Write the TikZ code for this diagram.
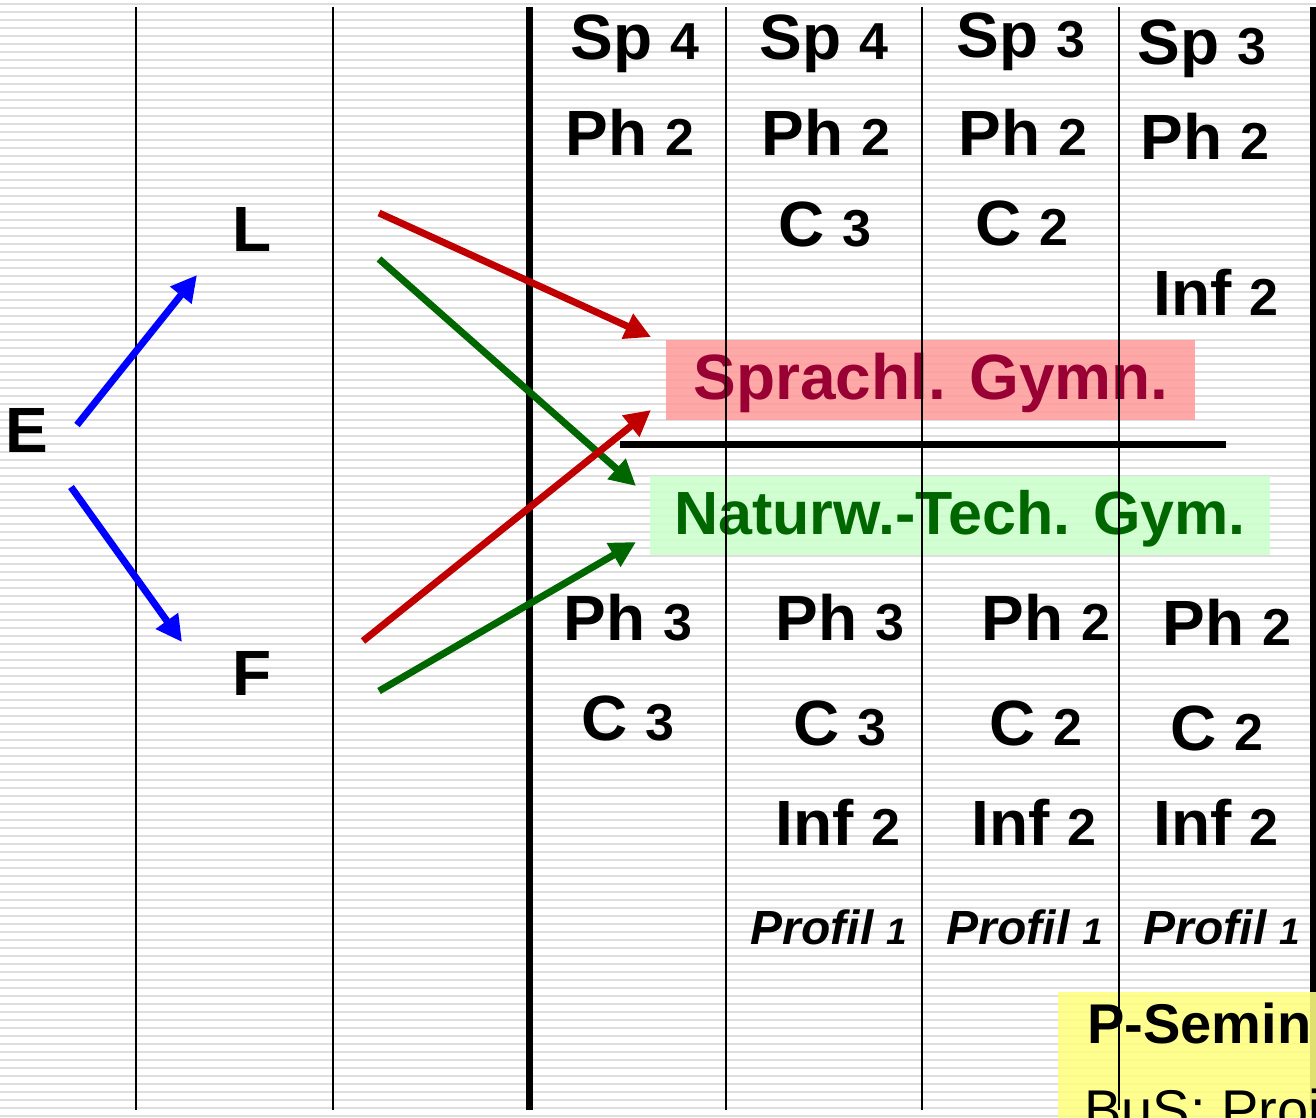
\documentclass[tikz,border=0pt]{standalone}
\usepackage{fontspec}
\setmainfont{Liberation Sans}
\usetikzlibrary{arrows.meta}
\definecolor{stripe}{RGB}{222,222,222}
\definecolor{pinkbox}{RGB}{255,153,153}
\definecolor{greenbox}{RGB}{204,255,204}
\definecolor{yellowbox}{RGB}{255,255,128}
\definecolor{crimsontxt}{RGB}{153,0,51}
\definecolor{greentxt}{RGB}{0,102,0}
\definecolor{redarrow}{RGB}{192,0,0}
\definecolor{greenarrow}{RGB}{0,102,0}
\definecolor{bluearrow}{RGB}{0,0,255}
\newcommand{\mysubj}[2]{{\fontsize{64}{70}\selectfont\bfseries #1 {\fontsize{52}{56}\selectfont #2}}}
\newcommand{\myprof}[2]{{\fontsize{48}{52}\selectfont\bfseries\itshape #1 {\fontsize{37}{40}\selectfont #2}}}
\begin{document}
\begin{tikzpicture}[x=1pt,y=-1pt,
  txt/.style={anchor=base,inner sep=0pt},
  bigletter/.style={anchor=base west,inner sep=0pt,font=\fontsize{64}{70}\selectfont\bfseries},
  thinline/.style={line width=2pt,black},
  thickline/.style={line width=7pt,black},
  arr/.style={line width=7pt,-{Triangle[length=26pt,width=26pt]}},
  bgstripe/.style={line width=1.8pt,stripe}
]
\useasboundingbox (0,0) rectangle (1316,1117);
\clip (0,0) rectangle (1316,1117);
\fill[white] (0,0) rectangle (1316,1117);
\foreach \y in {4,12,...,1116} \draw[bgstripe] (0,\y) -- (1316,\y);

% right thick line (under yellow box)
\draw[thickline] (1313,7) -- (1313,1110);

% coloured boxes
\fill[pinkbox,opacity=0.85] (666,340) rectangle (1195,420);
\fill[greenbox,opacity=0.9] (650,476) rectangle (1270,555);
\fill[yellowbox,opacity=0.88] (1058,992) rectangle (1330,1130);

\node[txt,text=crimsontxt,font=\fontsize{64}{70}\selectfont\bfseries] (sg) at (931,399) {Sprachl. Gymn.};
\node[txt,text=greentxt,font=\fontsize{61}{66}\selectfont\bfseries] (ntg) at (960,534) {Naturw.-Tech. Gym.};
\node[anchor=base west,inner sep=0pt,font=\fontsize{56}{60}\selectfont\bfseries] (ps) at (1087,1043) {P-Semin};
\node[anchor=base west,inner sep=0pt,font=\fontsize{56}{60}\selectfont] (bus) at (1084,1129) {BuS: Proj};

% vertical lines
\draw[thinline] (136,7) -- (136,1110);
\draw[thinline] (333,7) -- (333,1110);
\draw[thickline] (529,7) -- (529,1110);
\draw[thinline] (726,7) -- (726,1110);
\draw[thinline] (922,7) -- (922,1110);
\draw[thinline] (1119,7) -- (1119,1110);
% horizontal separator
\draw[thickline] (620,444) -- (1226,444);

% upper table
\node[txt] (a1) at (635,59) {\mysubj{Sp}{4}};
\node[txt] (a2) at (630,155) {\mysubj{Ph}{2}};
\node[txt] (b1) at (824,59) {\mysubj{Sp}{4}};
\node[txt] (b2) at (826,155) {\mysubj{Ph}{2}};
\node[txt] (b3) at (825,246) {\mysubj{C}{3}};
\node[txt] (c1) at (1021,57) {\mysubj{Sp}{3}};
\node[txt] (c2) at (1023,155) {\mysubj{Ph}{2}};
\node[txt] (c3) at (1022,245) {\mysubj{C}{2}};
\node[txt] (d1) at (1202,64) {\mysubj{Sp}{3}};
\node[txt] (d2) at (1205,159) {\mysubj{Ph}{2}};
\node[txt] (d4) at (1216,315) {\mysubj{Inf}{2}};

% lower table
\node[txt] (e1) at (628,640) {\mysubj{Ph}{3}};
\node[txt] (e2) at (628,740) {\mysubj{C}{3}};
\node[txt] (f1) at (840,640) {\mysubj{Ph}{3}};
\node[txt] (f2) at (840,745) {\mysubj{C}{3}};
\node[txt] (f3) at (838,845) {\mysubj{Inf}{2}};
\node[txt] (f4) at (829,944) {\myprof{Profil}{1}};
\node[txt] (g1) at (1046,640) {\mysubj{Ph}{2}};
\node[txt] (g2) at (1036,745) {\mysubj{C}{2}};
\node[txt] (g3) at (1034,845) {\mysubj{Inf}{2}};
\node[txt] (g4) at (1025,944) {\myprof{Profil}{1}};
\node[txt] (h1) at (1227,645) {\mysubj{Ph}{2}};
\node[txt] (h2) at (1217,750) {\mysubj{C}{2}};
\node[txt] (h3) at (1216,845) {\mysubj{Inf}{2}};
\node[txt] (h4) at (1222,944) {\myprof{Profil}{1}};

% E, L, F
\node[bigletter] (E) at (5,452) {E};
\node[bigletter] (L) at (232,251) {L};
\node[bigletter] (F) at (232,695) {F};

% arrow end points
\coordinate (Eu) at (77,425);
\coordinate (Ed) at (71,487);
\coordinate (Lin) at (197,275);
\coordinate (Fin) at (182,642);
\coordinate (Lr) at (379,213);
\coordinate (Lg) at (379,259);
\coordinate (Fr) at (363,641);
\coordinate (Fg) at (379,691);
\coordinate (sgA) at (651,337);
\coordinate (sgB) at (651,410);
\coordinate (ntA) at (636,486);
\coordinate (ntB) at (636,542);

\draw[arr,bluearrow] (Eu) -- (Lin);
\draw[arr,bluearrow] (Ed) -- (Fin);
\draw[arr,redarrow] (Lr) -- (sgA);
\draw[arr,greenarrow] (Lg) -- (ntA);
\draw[arr,redarrow] (Fr) -- (sgB);
\draw[arr,greenarrow] (Fg) -- (ntB);
\end{tikzpicture}
\end{document}
